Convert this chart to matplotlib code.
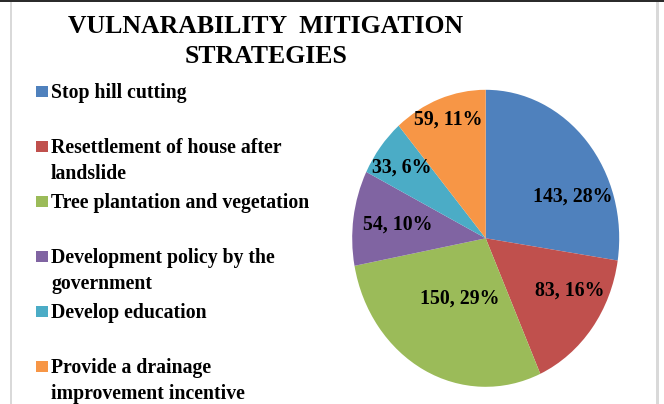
import matplotlib
matplotlib.use("Agg")
import matplotlib.pyplot as plt
import matplotlib.patches as mpatches

# datos del grafico
estrategias = [
    "Stop hill cutting",
    "Resettlement of house after\nlandslide",
    "Tree plantation and vegetation",
    "Development policy by the\ngovernment",
    "Develop education",
    "Provide a drainage\nimprovement incentive",
]
valores = [143, 83, 150, 54, 33, 59]
porcentajes = ["28%", "16%", "29%", "10%", "6%", "11%"]
colores = ["#4F81BD", "#C0504D", "#9BBB59", "#8064A2", "#4BACC6", "#F79646"]
titulo = ["VULNARABILITY  MITIGATION", "STRATEGIES"]

# posicion de cada etiqueta dentro del pastel (coordenadas del eje)
pos_etiquetas = [(0.654, 0.281), (0.631, -0.349), (-0.193, -0.403),
                 (-0.659, 0.090), (-0.629, 0.475), (-0.282, 0.799)]

W, H = 664, 404
fuente = "Liberation Serif"


def fx(px):
    return px / W


def fy(py):
    return 1 - py / H


fig = plt.figure(figsize=(W / 100, H / 100), dpi=100)

# marco del area del grafico
fig.add_artist(mpatches.Rectangle((0, fy(2)), 1, 2 / H, transform=fig.transFigure,
                                  color="#2b2b2b", lw=0))
fig.add_artist(mpatches.Rectangle((fx(10), 0), 2 / W, fy(2), transform=fig.transFigure,
                                  color="#d9d9d9", lw=0))
fig.add_artist(mpatches.Rectangle((fx(656), 0), 3 / W, fy(2), transform=fig.transFigure,
                                  color="#d9d9d9", lw=0))

for k, linea in enumerate(titulo):
    fig.text(fx(266), fy(33 + 30 * k), linea, ha="center", va="baseline",
             fontsize=18.5, fontweight="bold", family=fuente)

# pastel (eliptico, como en la hoja de calculo)
cx, cy, rx, ry = 485.7, 238.3, 133.5, 148.5
ax = fig.add_axes([fx(cx - rx), fy(cy + ry), 2 * rx / W, 2 * ry / H])
ax.pie(valores, colors=colores, startangle=90, counterclock=False,
       wedgeprops=dict(linewidth=0))
ax.set_aspect("auto")
ax.set_xlim(-1, 1)
ax.set_ylim(-1, 1)
ax.axis("off")

for v, p, (lx, ly) in zip(valores, porcentajes, pos_etiquetas):
    ax.text(lx, ly, "%d, %s" % (v, p), ha="center", va="center", fontsize=14.3,
            fontweight="bold", family=fuente, color="black")

# leyenda manual
y0, paso = 98, 55
for i, (nombre, color) in enumerate(zip(estrategias, colores)):
    yb = y0 + i * paso
    fig.add_artist(mpatches.Rectangle((fx(36), fy(yb - 1)), 12 / W, 11 / H,
                                      transform=fig.transFigure, color=color, lw=0))
    for k, linea in enumerate(nombre.split("\n")):
        fig.text(fx(51), fy(yb + 26 * k), linea, ha="left", va="baseline",
                 fontsize=14.2, fontweight="bold", family=fuente)

fig.savefig("out.png", dpi=100)
